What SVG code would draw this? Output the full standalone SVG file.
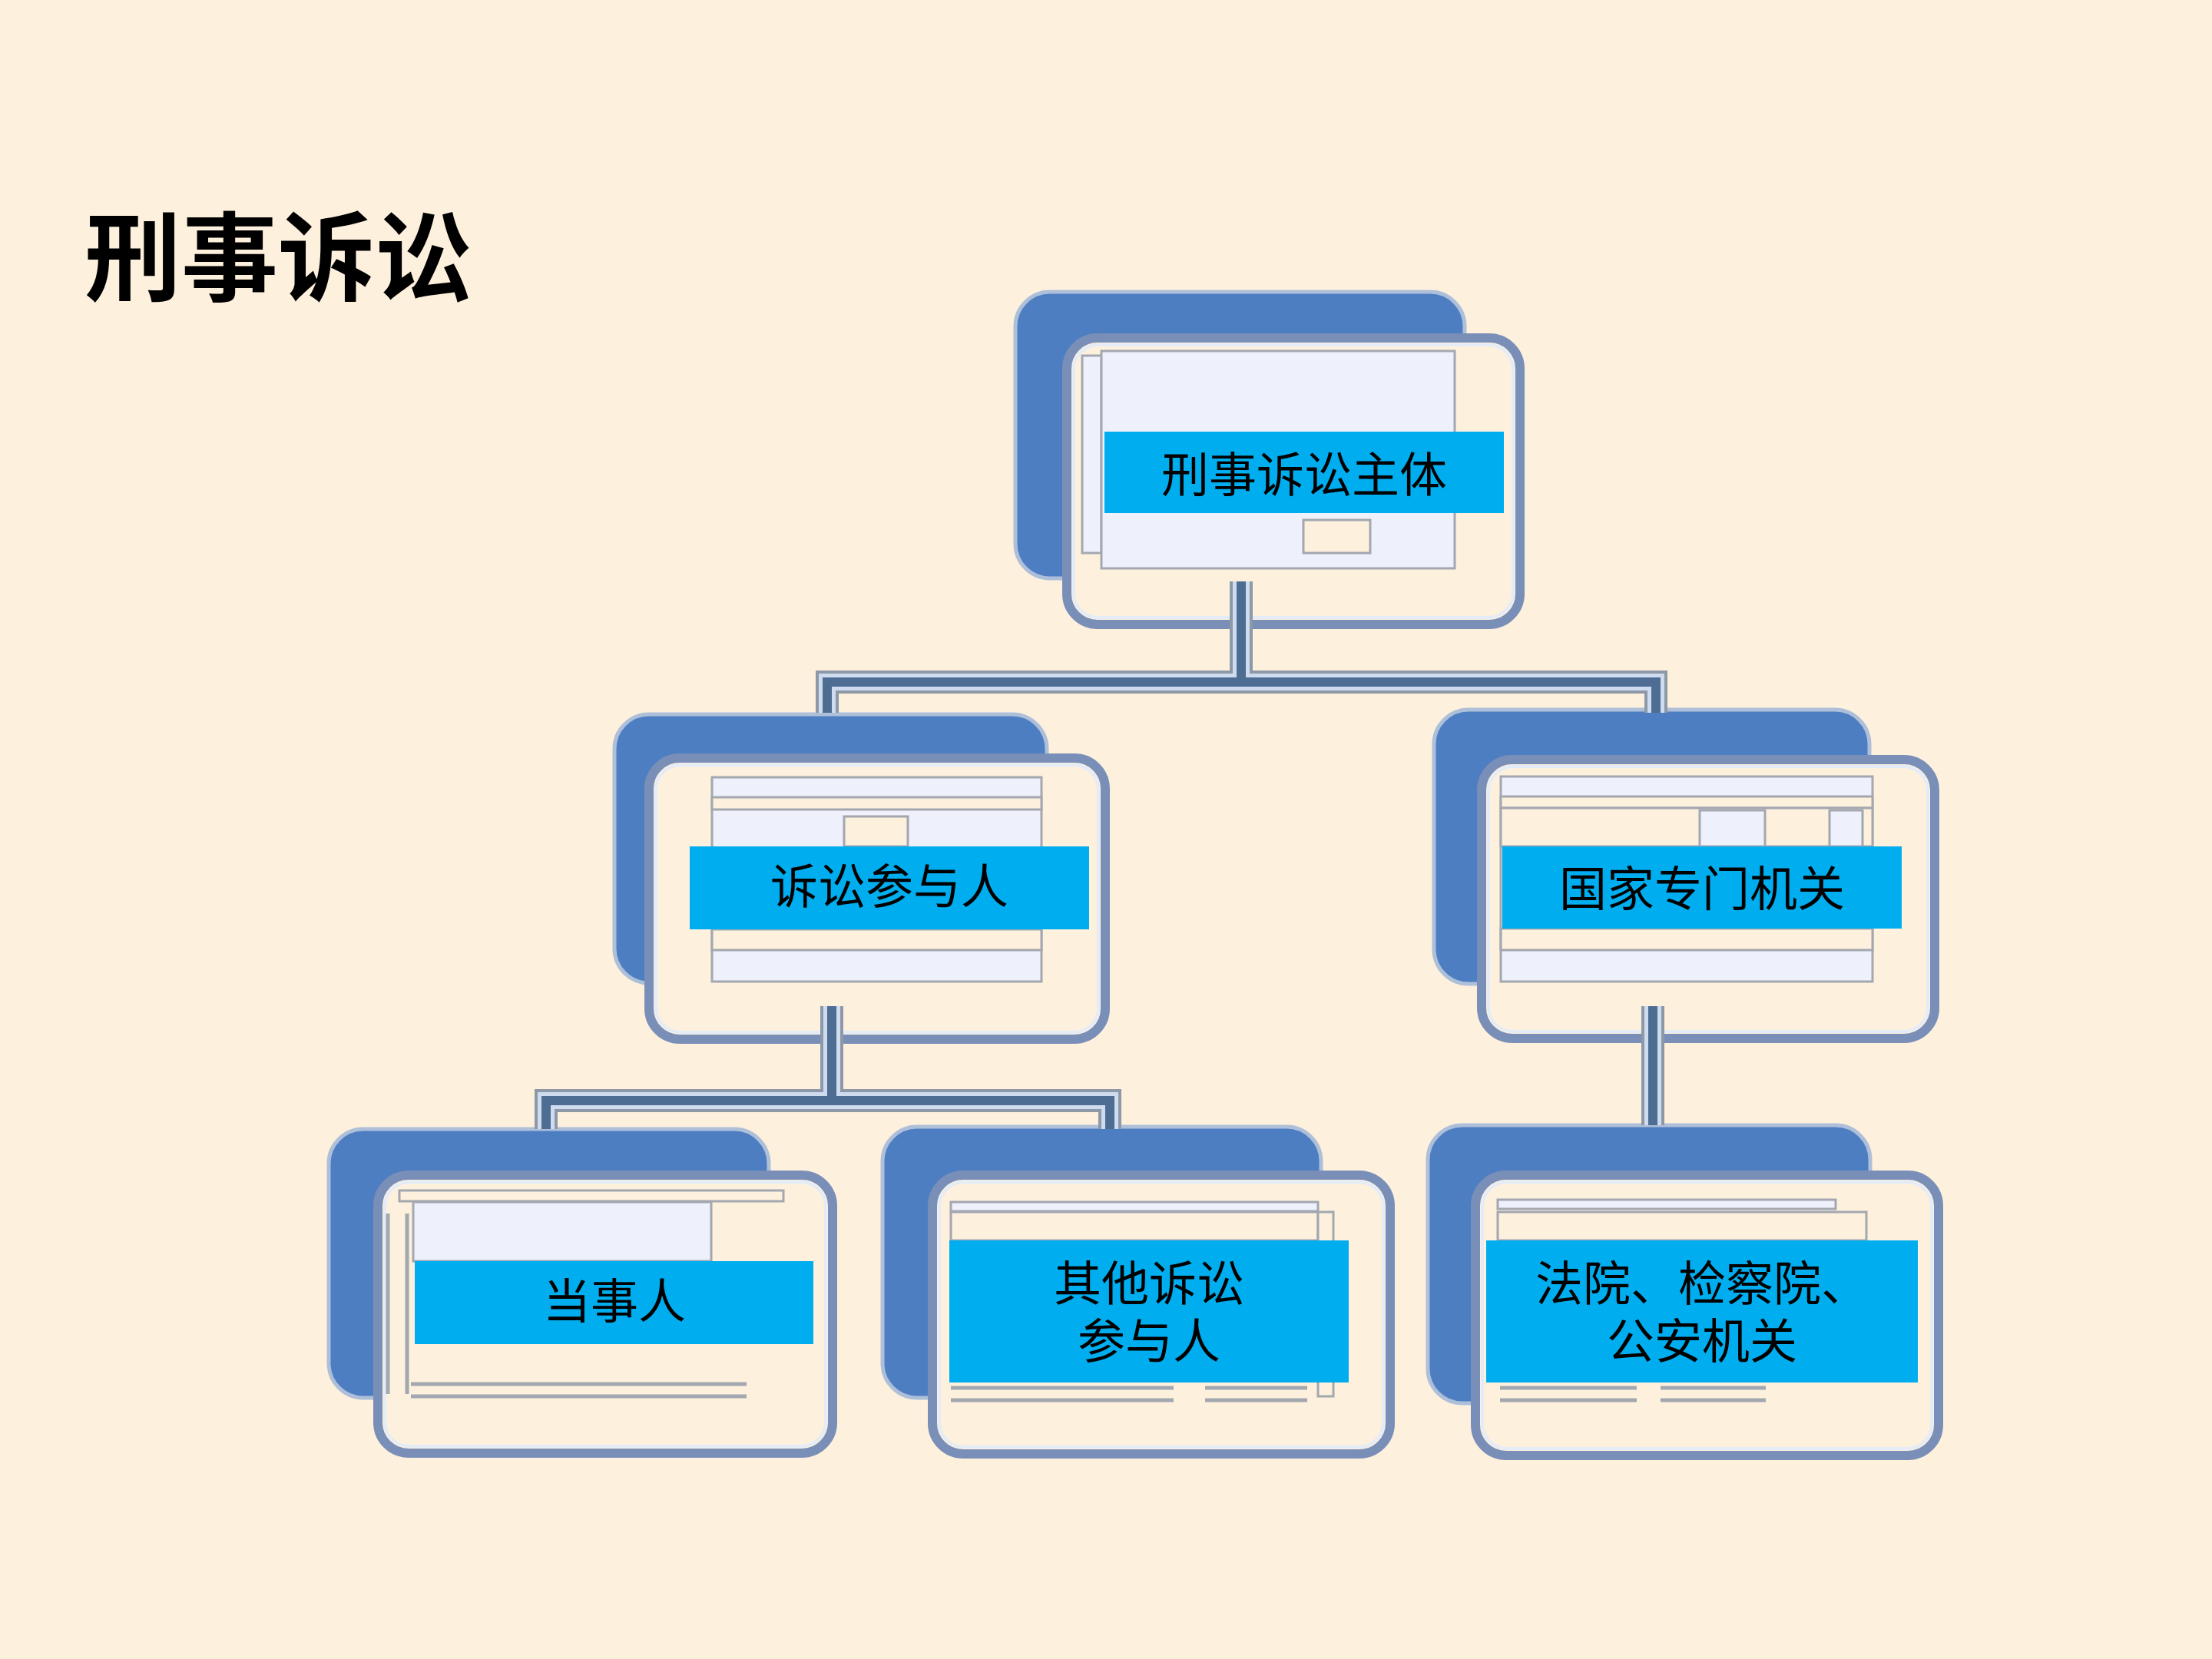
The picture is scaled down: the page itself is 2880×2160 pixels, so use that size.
<svg xmlns="http://www.w3.org/2000/svg" width="2880" height="2160" viewBox="0 0 2880 2160">
<style>
.bg{fill:#fdf0dd}
.back{fill:#4e7ec2;stroke:#aebfd9;stroke-width:5}
.frame{fill:#fdf0dd;stroke:#7a8fb8;stroke-width:12}
.frame2{fill:none;stroke:#e4ecf8;stroke-width:4}
.panel{fill:#eef1fb;stroke:#a3a7b0;stroke-width:3}
.hole{fill:#fdf0dd;stroke:#a3a7b0;stroke-width:3}
.rule{stroke:#a3a7b0;stroke-width:5;fill:none}
.label{fill:#00aeef}
.t{font-family:"Noto Sans CJK SC","Noto Sans CJK TC",sans-serif;font-size:62px;text-anchor:middle;fill:#000}
.title{font-family:"Noto Sans CJK SC","Noto Sans CJK TC",sans-serif;font-size:126px;font-weight:bold;fill:#000}
.c1{fill:none;stroke:#8e99a8;stroke-width:30}
.c2{fill:none;stroke:#cfdcef;stroke-width:22}
.c3{fill:none;stroke:#4d6d93;stroke-width:12}
</style>
<defs>
<path id="p1" d="M1616,757 V888 M1077,928 V888 H2156 V928"/>
<path id="p2" d="M1083,1310 V1433 M711,1470 V1433 H1445 V1470"/>
<path id="p3" d="M2152,1310 V1465"/>
</defs>
<rect class="bg" x="0" y="0" width="2880" height="2160"/>
<text class="title" x="110" y="382">刑事诉讼</text>

<g id="node-top">
<rect class="back" x="1322" y="380" width="585" height="373" rx="45"/>
<rect class="frame" x="1389" y="440" width="590" height="373" rx="40"/>
<rect class="frame2" x="1398" y="449" width="572" height="355" rx="32"/>
<rect class="panel" x="1409" y="463" width="25" height="257"/>
<rect class="panel" x="1434" y="457" width="460" height="283"/>
<rect class="hole" x="1697" y="677" width="87" height="43"/>
<rect class="label" x="1438" y="562" width="520" height="106"/>
<text class="t" x="1698" y="641">刑事诉讼主体</text>
</g>

<g id="node-participants">
<rect class="back" x="800" y="930" width="563" height="350" rx="45"/>
<rect class="frame" x="845" y="987" width="594" height="366" rx="40"/>
<rect class="frame2" x="854" y="996" width="576" height="348" rx="32"/>
<rect class="panel" x="927" y="1012" width="429" height="266"/>
<rect class="hole" x="927" y="1038" width="429" height="16"/>
<rect class="hole" x="1099" y="1063" width="83" height="39"/>
<rect class="hole" x="927" y="1210" width="429" height="27"/>
<rect class="label" x="898" y="1102" width="520" height="108"/>
<text class="t" x="1158" y="1177">诉讼参与人</text>
</g>

<g id="node-organs">
<rect class="back" x="1867" y="924" width="567" height="357" rx="45"/>
<rect class="frame" x="1929" y="989" width="590" height="363" rx="40"/>
<rect class="frame2" x="1938" y="998" width="572" height="345" rx="32"/>
<rect class="panel" x="1954" y="1011" width="484" height="267"/>
<rect class="hole" x="1954" y="1037" width="484" height="15"/>
<rect class="hole" x="1954" y="1052" width="484" height="50"/>
<rect class="panel" x="2213" y="1055" width="85" height="47"/>
<rect class="panel" x="2382" y="1055" width="43" height="47"/>
<rect class="hole" x="1954" y="1209" width="484" height="28"/>
<rect class="label" x="1956" y="1102" width="520" height="107"/>
<text class="t" x="2216" y="1180">国家专门机关</text>
</g>

<g id="node-parties">
<rect class="back" x="428" y="1470" width="573" height="350" rx="45"/>
<rect class="frame" x="492" y="1530" width="592" height="362" rx="40"/>
<rect class="frame2" x="501" y="1539" width="574" height="344" rx="32"/>
<rect class="hole" x="520" y="1550" width="500" height="14"/>
<rect class="panel" x="538" y="1565" width="388" height="77"/>
<path class="rule" d="M505,1580 V1815 M530,1580 V1815 M535,1802 H972 M535,1818 H972"/>
<rect class="label" x="540" y="1642" width="519" height="108"/>
<text class="t" x="800" y="1717">当事人</text>
</g>

<g id="node-other">
<rect class="back" x="1149" y="1467" width="571" height="353" rx="45"/>
<rect class="frame" x="1214" y="1530" width="596" height="363" rx="40"/>
<rect class="frame2" x="1223" y="1539" width="578" height="345" rx="32"/>
<rect class="panel" x="1238" y="1565" width="478" height="12"/>
<rect class="hole" x="1238" y="1578" width="478" height="37"/>
<rect class="hole" x="1716" y="1578" width="20" height="240"/>
<path class="rule" d="M1238,1807 H1528 M1238,1823 H1528 M1569,1807 H1702 M1569,1823 H1702"/>
<rect class="label" x="1236" y="1615" width="520" height="185"/>
<text class="t" x="1496" y="1694"><tspan x="1496">其他诉讼</tspan><tspan x="1496" dy="75">参与人</tspan></text>
</g>

<g id="node-courts">
<rect class="back" x="1859" y="1465" width="576" height="362" rx="45"/>
<rect class="frame" x="1921" y="1530" width="603" height="365" rx="40"/>
<rect class="frame2" x="1930" y="1539" width="585" height="347" rx="32"/>
<rect class="panel" x="1950" y="1562" width="440" height="12"/>
<rect class="hole" x="1950" y="1578" width="480" height="37"/>
<path class="rule" d="M1953,1807 H2131 M1953,1823 H2131 M2162,1807 H2299 M2162,1823 H2299"/>
<rect class="label" x="1935" y="1615" width="562" height="185"/>
<text class="t" x="2216" y="1694"><tspan x="2216">法院、检察院、</tspan><tspan x="2216" dy="75">公安机关</tspan></text>
</g>

<g id="connectors">
<use href="#p1" class="c1"/><use href="#p1" class="c2"/><use href="#p1" class="c3"/>
<use href="#p2" class="c1"/><use href="#p2" class="c2"/><use href="#p2" class="c3"/>
<use href="#p3" class="c1"/><use href="#p3" class="c2"/><use href="#p3" class="c3"/>
</g>
</svg>
